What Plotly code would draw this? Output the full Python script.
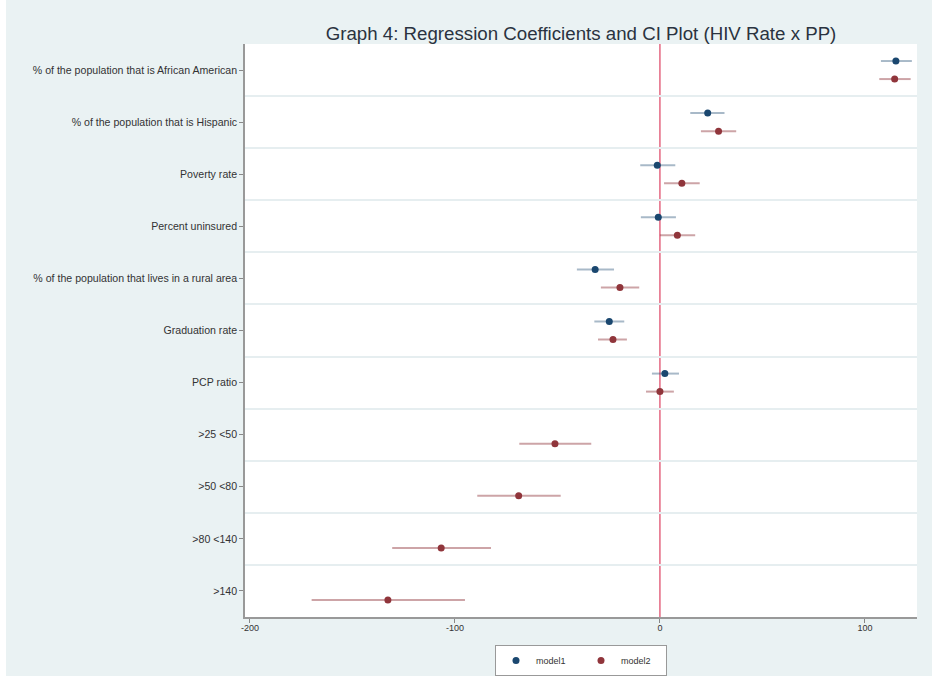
import plotly.graph_objects as go

categories = [
    "% of the population that is African American",
    "% of the population that is Hispanic",
    "Poverty rate",
    "Percent uninsured",
    "% of the population that lives in a rural area",
    "Graduation rate",
    "PCP ratio",
    ">25 <50",
    ">50 <80",
    ">80 <140",
    ">140",
]

# model1 (first 7 variables only)
m1_coef = [115.1, 23.3, -1.3, -0.8, -31.6, -24.7, 2.4]
m1_lo = [107.8, 14.8, -9.6, -9.3, -40.5, -32.0, -3.9]
m1_hi = [122.9, 31.5, 7.5, 7.8, -22.4, -17.4, 9.3]

# model2 (all variables)
m2_coef = [114.5, 28.6, 10.7, 8.5, -19.5, -22.9, 0.0, -51.2, -68.9, -106.7, -132.7]
m2_lo = [107.0, 20.0, 2.0, 0.0, -28.8, -30.2, -6.8, -68.6, -89.1, -130.6, -169.9]
m2_hi = [122.3, 37.2, 19.4, 17.2, -10.1, -16.1, 6.8, -33.5, -48.4, -82.4, -95.1]

x_ticks = [-200, -100, 0, 100]
x_tick_labels = ["-200", "-100", "0", "100"]

NAVY = "#1a476f"
MAROON = "#90353b"
BG = "#eaf2f3"
OFF = 0.173

n = len(categories)
fig = go.Figure()

fig.add_trace(go.Scatter(
    x=m1_coef,
    y=[i - OFF for i in range(len(m1_coef))],
    mode="markers",
    name="model1",
    marker=dict(color=NAVY, size=7),
    error_x=dict(
        type="data", symmetric=False,
        array=[h - c for h, c in zip(m1_hi, m1_coef)],
        arrayminus=[c - l for c, l in zip(m1_coef, m1_lo)],
        color="rgba(26,71,111,0.38)", thickness=2, width=0,
    ),
))
fig.add_trace(go.Scatter(
    x=m2_coef,
    y=[i + OFF for i in range(len(m2_coef))],
    mode="markers",
    name="model2",
    marker=dict(color=MAROON, size=7),
    error_x=dict(
        type="data", symmetric=False,
        array=[h - c for h, c in zip(m2_hi, m2_coef)],
        arrayminus=[c - l for c, l in zip(m2_coef, m2_lo)],
        color="rgba(144,53,59,0.45)", thickness=2, width=0,
    ),
))

# zero reference line
fig.add_shape(type="line", xref="x", yref="paper", x0=0, x1=0, y0=0, y1=1,
              line=dict(color="#e0506e", width=1.3), layer="between")

# white strips at top and left of the image
L, R, T, B = 245, 15, 44, 59
W, H = 932, 676
pw, ph = W - L - R, H - T - B
fig.add_shape(type="rect", xref="paper", yref="paper",
              x0=-L / pw, x1=(W - L) / pw, y0=(H - T) / ph, y1=(H - T - 6) / ph,
              fillcolor="white", line=dict(width=0), layer="below")
fig.add_shape(type="rect", xref="paper", yref="paper",
              x0=-L / pw, x1=(-L + 6) / pw, y0=-B / ph, y1=(H - T) / ph,
              fillcolor="white", line=dict(width=0), layer="below")

fig.update_layout(
    width=W, height=H,
    margin=dict(l=L, r=R, t=T, b=B, autoexpand=False),
    paper_bgcolor=BG,
    plot_bgcolor="white",
    font=dict(family="Liberation Sans, Arial, sans-serif", color="#333333"),
    title=dict(
        text="Graph 4: Regression Coefficients and CI Plot (HIV Rate x PP)",
        x=(581 / W), xanchor="center", y=1 - 33 / H, yanchor="middle",
        font=dict(size=18.7, color="#2a3340"),
    ),
    showlegend=True,
    legend=dict(
        orientation="h", x=0.5, xanchor="center", y=-(645 - (H - B)) / ph, yanchor="top",
        bgcolor="white", bordercolor="#999999", borderwidth=1,
        font=dict(size=9, color="#333333"),
        itemwidth=30, entrywidth=40, entrywidthmode="pixels",
        tracegroupgap=0,
    ),
    xaxis=dict(
        range=[-202.4, 125.4], tickvals=x_ticks, ticktext=x_tick_labels,
        ticks="outside", ticklen=4, tickcolor="#888888",
        tickfont=dict(size=9, color="#333333"),
        ticklabelstandoff=-3,
        showgrid=False, zeroline=False,
        showline=True, linecolor="#999999", linewidth=1.5,
        fixedrange=True,
    ),
    yaxis=dict(
        range=[n - 0.5, -0.5],
        tickvals=list(range(n)), ticktext=categories,
        ticks="outside", ticklen=4, tickcolor="#888888",
        tickfont=dict(size=10.6, color="#333333"),
        showgrid=False, zeroline=False,
        showline=True, linecolor="#999999", linewidth=1.5,
        minor=dict(tickvals=[i + 0.5 for i in range(n - 1)], showgrid=True,
                   gridcolor="#e6eef0", gridwidth=1.5, ticks=""),
        fixedrange=True,
    ),
)

fig.write_html("out.html")
